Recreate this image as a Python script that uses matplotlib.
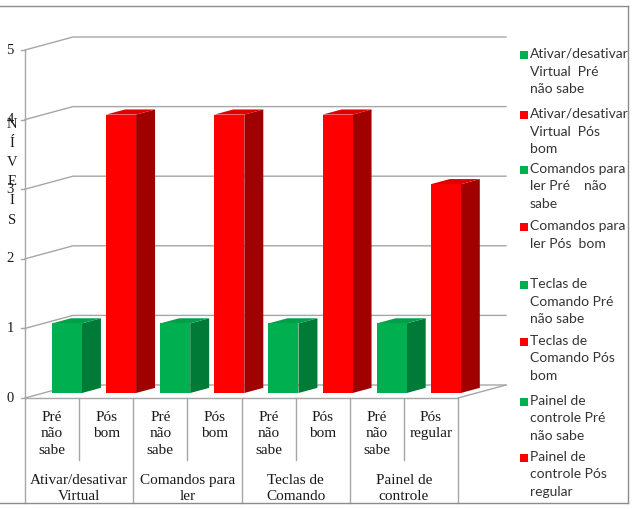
import matplotlib
matplotlib.use('Agg')
import matplotlib.pyplot as plt
from matplotlib.patches import Polygon, Rectangle
from matplotlib.lines import Line2D

# data
groups = ['Ativar/desativar\nVirtual', 'Comandos para\nler', 'Teclas de\nComando', 'Painel de\ncontrole']
sub_labels = ['Pré\nnão\nsabe', 'Pós\nbom', 'Pré\nnão\nsabe', 'Pós\nbom',
              'Pré\nnão\nsabe', 'Pós\nbom', 'Pré\nnão\nsabe', 'Pós\nregular']
pre_values = [1, 1, 1, 1]
pos_values = [4, 4, 4, 3]
series_names = ['Ativar/desativar\nVirtual  Pré\nnão sabe', 'Ativar/desativar\nVirtual  Pós\nbom',
                'Comandos para\nler Pré    não\nsabe', 'Comandos para\nler Pós  bom',
                'Teclas de\nComando Pré\nnão sabe', 'Teclas de\nComando Pós\nbom',
                'Painel de\ncontrole Pré\nnão sabe', 'Painel de\ncontrole Pós\nregular']
y_ticks = [0, 1, 2, 3, 4, 5]

W, H = 633, 509
fig = plt.figure(figsize=(W / 100, H / 100), dpi=100, facecolor='white')

# front plane: slot 0..8 -> px 25..458, value 0..5 -> px 398..50
px_slot = (458 - 25) / 8
px_val = (398 - 50) / 5
ax = fig.add_axes([0, 0, 1, 1])
ax.set_xlim(-25 / px_slot, (W - 25) / px_slot)
ax.set_ylim((398 - H) / px_val, 398 / px_val)
ax.axis('off')

DX = 48 / px_slot   # depth offset
DY = 13 / px_val
f0, f1 = 0.385, 0.78
grid_c = '#a6a6a6'
serif = 'Liberation Serif'
txt_c = '#1a1a1a'


def fx(px):
    return px / W


def fy(py):
    return 1 - py / H


def fig_line(x, y, c='#8c8c8c', lw=1.0):
    fig.add_artist(Line2D([fx(v) for v in x], [fy(v) for v in y], color=c, lw=lw,
                          transform=fig.transFigure))


# walls / gridlines
n_slots = len(sub_labels)
for v in y_ticks:
    ax.plot([0, DX, n_slots + DX], [v, v + DY, v + DY], color=grid_c, lw=1.0, zorder=1)
    ax.plot([-4 / px_slot, 0], [v, v], color=grid_c, lw=1.0, zorder=1)
    ax.text(-15 / px_slot, v, str(v), ha='center', va='center', fontsize=10.5,
            family=serif, color=txt_c)
ax.plot([0, 0], [0, max(y_ticks)], color=grid_c, lw=1.0, zorder=1)
ax.plot([n_slots, n_slots + DX], [0, DY], color=grid_c, lw=1.0, zorder=1)

ax.text(-13 / px_slot, (398 - 172) / px_val, 'N\nÍ\nV\nE\nI\nS', ha='center', va='center',
        fontsize=10.5, family=serif, linespacing=1.62, color=txt_c)

# bars
colors = {
    'pre': ('#00b050', '#007a37', '#00a048'),
    'pos': ('#ff0000', '#a00000', '#e00000'),
}
values = []
kinds = []
for a, b in zip(pre_values, pos_values):
    values += [a, b]
    kinds += ['pre', 'pos']

bx0, bx1 = 0.157, 0.711
for i, (v, k) in enumerate(zip(values, kinds)):
    front, side, top = colors[k]
    x0, x1 = i + bx0, i + bx1
    o0x, o0y = f0 * DX, f0 * DY
    o1x, o1y = f1 * DX, f1 * DY
    ax.add_patch(Polygon([(x1 + o0x, o0y), (x1 + o1x, o1y), (x1 + o1x, v + o1y), (x1 + o0x, v + o0y)],
                         closed=True, facecolor=side, edgecolor='none', zorder=3))
    ax.add_patch(Polygon([(x0 + o0x, v + o0y), (x1 + o0x, v + o0y), (x1 + o1x, v + o1y), (x0 + o1x, v + o1y)],
                         closed=True, facecolor=top, edgecolor='none', zorder=3))
    ax.add_patch(Rectangle((x0 + o0x, o0y), x1 - x0, v, facecolor=front, edgecolor='none', zorder=4))

# category table
row1 = (398 - 460) / px_val
row2 = (398 - 503) / px_val
ax.plot([0, n_slots], [0, 0], color=grid_c, lw=1.0, zorder=5)
for s in range(n_slots + 1):
    ax.plot([s, s], [0, row2 if s % 2 == 0 else row1], color=grid_c, lw=1.0, zorder=5)
for i, lab in enumerate(sub_labels):
    ax.text(i + 0.5, -13 / px_val, lab, ha='center', va='top', fontsize=11, family=serif,
            linespacing=1.33, color=txt_c)
for g, lab in enumerate(groups):
    ax.text(2 * g + 1, -76 / px_val, lab, ha='center', va='top', fontsize=11, family=serif,
            linespacing=1.25, color=txt_c)

# outer frame
fig_line([0, 628], [6, 6])
fig_line([628, 628], [6, 503])
fig_line([0, 628], [503, 503])

# legend
legend_y = [55, 115, 170, 227, 285, 342, 402, 458]
leg_colors = ['#00b050', '#ff0000'] * 4
for name, yy, c in zip(series_names, legend_y, leg_colors):
    fig.add_artist(Rectangle((fx(520), fy(yy + 4)), 8 / W, 8 / H, facecolor=c, edgecolor='none',
                             transform=fig.transFigure))
    fig.text(fx(530), fy(yy - 7), name, ha='left', va='top', fontsize=10, family='Lato',
             linespacing=1.55, color='#333333')

fig.savefig('out.png', dpi=100, facecolor='white')
